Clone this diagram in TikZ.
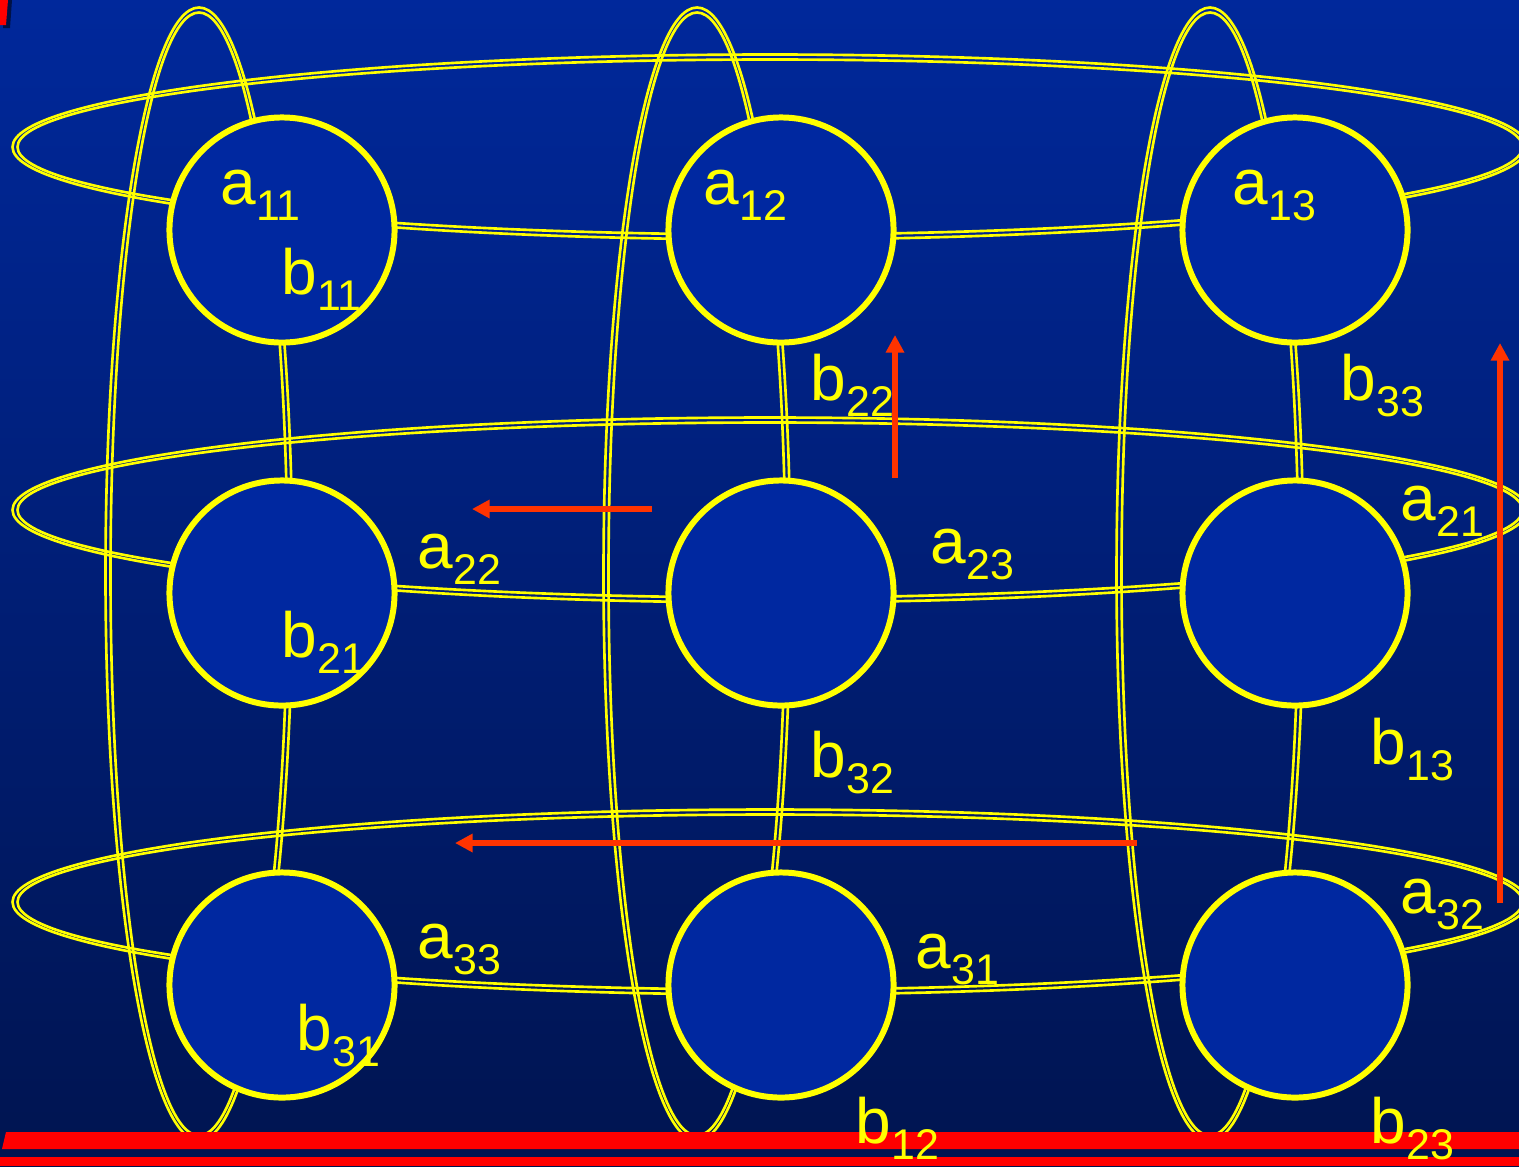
\documentclass[tikz,border=0pt]{standalone}
\usepackage{fontspec}
\setmainfont{Liberation Sans}
\usepackage{xcolor}
\usetikzlibrary{arrows.meta}
\definecolor{slidetop}{RGB}{0,40,155}
\definecolor{slidebot}{RGB}{0,20,80}
\definecolor{cellblue}{RGB}{0,40,160}
\definecolor{ringyellow}{RGB}{255,255,0}
\definecolor{shiftred}{RGB}{255,51,0}
\definecolor{barred}{RGB}{255,0,0}
\newcommand\entry[2]{#1\raisebox{-4.6pt}{\fontsize{12.2pt}{14pt}\selectfont #2}}
\tikzset{
  ring/.style={draw=ringyellow,line width=0.75pt},
  cell/.style={circle,draw=ringyellow,fill=cellblue,line width=1.7pt,minimum size=2.25cm,inner sep=0pt},
  entrylab/.style={anchor=base west,inner sep=0pt,text=ringyellow,font=\fontsize{18.2pt}{20pt}\selectfont},
  shiftarrow/.style={shiftred,line width=1.6pt,-{Triangle[length=5pt,width=5pt]}}
}

\begin{document}
\begin{tikzpicture}[x=0.01cm,y=-0.01cm]
  \useasboundingbox (0,0) rectangle (1519,1166);
  \shade[top color=slidetop,bottom color=slidebot] (0,0) rectangle (1519,1166);
  % corner mark
  \fill[black!55!slidetop] (4,0) -- (12,0) -- (10,28) -- (3,28) -- cycle;
  \fill[barred] (0,0) -- (8,0) -- (6,25) -- (0,25) -- cycle;
  % rings
  \foreach \cy in {147,510,902} {
    \draw[ring] (770,\cy) ellipse [x radius=757.5,y radius=92.5];
    \draw[ring] (770,\cy) ellipse [x radius=752.5,y radius=87.5];
  }
  \foreach \cx in {199,697,1210} {
    \draw[ring] (\cx,574) ellipse [x radius=93.5,y radius=566.5];
    \draw[ring] (\cx,574) ellipse [x radius=88.5,y radius=561.5];
  }
  % processors
  \node[cell] (n11) at (282,230) {};
  \node[cell] (n12) at (781,230) {};
  \node[cell] (n13) at (1295,230) {};
  \node[cell] (n21) at (282,593) {};
  \node[cell] (n22) at (781,593) {};
  \node[cell] (n23) at (1295,593) {};
  \node[cell] (n31) at (282,985) {};
  \node[cell] (n32) at (781,985) {};
  \node[cell] (n33) at (1295,985) {};
  % shifts
  \coordinate (up1s) at (895,478);
  \coordinate (up1e) at (895,335);
  \coordinate (lt1s) at (652,509);
  \coordinate (lt1e) at (472,509);
  \coordinate (lt2s) at (1137,843);
  \coordinate (lt2e) at (455,843);
  \coordinate (up2s) at (1500,903);
  \coordinate (up2e) at (1500,343);
  \draw[shiftarrow] (up1s) -- (up1e);
  \draw[shiftarrow] (lt1s) -- (lt1e);
  \draw[shiftarrow] (lt2s) -- (lt2e);
  \draw[shiftarrow] (up2s) -- (up2e);
  % bottom bar
  \fill[barred] (6,1132) -- (1519,1132) -- (1519,1149) -- (2,1149) -- cycle;
  \fill[barred] (0,1157) rectangle (1519,1166);
  % entries
  \node[entrylab] (a11) at (220,204) {\entry{a}{11}};
  \node[entrylab] (b11) at (281,294) {\entry{b}{11}};
  \node[entrylab] (a12) at (703,204) {\entry{a}{12}};
  \node[entrylab] (a13) at (1232,204) {\entry{a}{13}};
  \node[entrylab] (b22) at (810,400) {\entry{b}{22}};
  \node[entrylab] (b33) at (1340,400) {\entry{b}{33}};
  \node[entrylab] (a22) at (417,568) {\entry{a}{22}};
  \node[entrylab] (a23) at (930,563) {\entry{a}{23}};
  \node[entrylab] (a21) at (1400,520) {\entry{a}{21}};
  \node[entrylab] (b21) at (281,657) {\entry{b}{21}};
  \node[entrylab] (b32) at (810,777) {\entry{b}{32}};
  \node[entrylab] (b13) at (1370,764) {\entry{b}{13}};
  \node[entrylab] (a33) at (417,958) {\entry{a}{33}};
  \node[entrylab] (a31) at (915,968) {\entry{a}{31}};
  \node[entrylab] (a32) at (1400,913) {\entry{a}{32}};
  \node[entrylab] (b31) at (296,1050) {\entry{b}{31}};
  \node[entrylab] (b12) at (855,1143) {\entry{b}{12}};
  \node[entrylab] (b23) at (1370,1143) {\entry{b}{23}};
\end{tikzpicture}
\end{document}
